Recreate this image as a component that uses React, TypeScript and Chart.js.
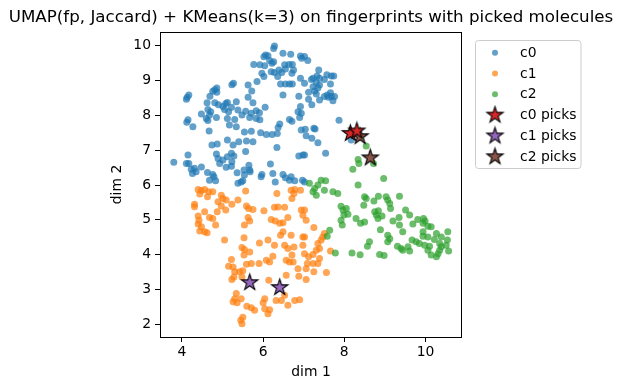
import React, { useEffect, useRef } from "react";
import { Chart, registerables } from "chart.js";
Chart.register(...registerables);

const titleText = "UMAP(fp, Jaccard) + KMeans(k=3) on fingerprints with picked molecules";
const xLabel = "dim 1";
const yLabel = "dim 2";
const xTickValues = [4, 6, 8, 10];
const yTickValues = [2, 3, 4, 5, 6, 7, 8, 9, 10];
const xRange = [3.46, 10.9];
const yRange = [1.64, 10.39];

const c0Points = [
  [6.28,9.99],[6.26,9.92],[6.06,9.73],[6.02,9.68],[6.12,9.71],[6.49,9.78],[6.68,9.75],[6.92,9.70],[6.95,9.64],[5.77,9.46],[5.92,9.45],[6.04,9.42],[6.16,9.57],[6.22,9.49],[6.26,9.54],[6.64,9.46],[6.72,9.46],[6.53,9.45],[6.20,9.25],[6.28,9.23],[6.39,9.30],[6.46,9.23],[6.55,9.33],[6.71,9.21],[6.75,9.30],[5.97,9.21],[6.02,9.11],[6.36,9.11],[6.92,9.06],[5.27,8.92],[5.23,8.88],[5.63,8.87],[5.85,8.97],[6.43,8.90],[6.55,8.90],[6.65,8.90],[6.72,8.90],[4.81,8.73],[4.86,8.78],[4.76,8.69],[4.86,8.66],[5.72,8.70],[6.49,8.58],[4.17,8.58],[4.13,8.52],[4.11,8.46],[4.69,8.55],[5.63,8.52],[6.88,8.55],[4.62,8.36],[4.81,8.36],[4.90,8.30],[5.08,8.34],[5.12,8.37],[5.34,8.39],[5.01,8.25],[5.22,8.23],[5.75,8.36],[6.05,8.23],[6.92,8.25],[4.48,8.04],[4.64,8.17],[4.71,8.10],[4.68,8.01],[5.05,8.17],[5.15,8.10],[5.38,8.15],[5.57,8.12],[5.71,8.06],[5.83,8.13],[5.91,8.07],[6.86,8.10],[6.94,8.06],[4.15,7.87],[4.12,7.80],[4.27,7.67],[4.60,7.91],[4.64,7.85],[4.85,7.94],[5.12,7.91],[5.30,7.88],[5.48,8.01],[5.67,7.94],[5.83,7.91],[5.92,7.87],[6.41,7.75],[6.65,7.88],[6.71,7.83],[6.90,7.94],[5.17,7.72],[5.34,7.67],[6.37,7.65],
  [7.02,9.69],[7.10,9.57],[7.37,9.30],[7.33,9.13],[7.23,9.06],[7.19,9.03],[7.39,9.06],[7.51,9.03],[7.57,9.16],[7.68,9.13],[7.74,9.13],[7.02,8.92],[7.39,8.87],[7.31,8.94],[7.66,8.90],[7.23,8.82],[7.35,8.78],[7.12,8.66],[7.27,8.70],[7.31,8.61],[7.51,8.54],[7.58,8.58],[7.66,8.65],[7.68,8.54],[7.76,8.54],[7.61,8.52],[7.12,8.46],[7.39,8.44],[7.72,8.42],[7.20,8.30],[7.87,7.86],[7.25,7.63],[7.28,7.61],[7.04,7.60],
  [4.67,7.55],[5.54,7.52],[5.71,7.54],[5.94,7.50],[6.08,7.45],[6.22,7.45],[6.35,7.48],[6.94,7.58],[4.74,7.15],[4.87,7.18],[5.12,7.29],[5.26,7.15],[5.40,7.24],[5.59,7.26],[5.75,7.24],[6.34,7.08],[5.57,6.96],[4.15,6.86],[4.11,6.62],[4.17,6.62],[3.80,6.65],[4.85,6.89],[4.89,6.76],[5.01,6.72],[5.12,6.81],[5.22,6.91],[5.28,6.83],[5.23,6.67],[4.93,6.62],[5.09,6.51],[5.22,6.54],[5.65,6.57],[6.18,6.60],[6.88,6.83],[6.98,6.86],[4.23,6.45],[4.31,6.48],[4.48,6.52],[4.26,6.33],[4.35,6.38],[4.63,6.36],[4.76,6.30],[4.79,6.24],[4.68,6.14],[4.83,6.12],[5.36,6.35],[5.53,6.43],[5.67,6.43],[5.54,6.29],[5.68,6.38],[5.97,6.30],[5.95,6.24],[6.24,6.33],[6.49,6.30],[6.69,6.24],[6.55,6.21],[6.65,6.14],[6.78,6.12],[5.38,6.05],[5.46,6.09],[5.50,6.12],[6.30,6.09],[6.97,6.14],
  [7.06,7.41],[7.20,7.34],[7.35,7.21],[7.02,6.86],[7.54,6.91],[8.17,7.29],[7.02,6.09]
];

const c1Points = [
  [4.40,5.87],[4.48,5.84],[4.56,5.87],[4.66,5.81],[4.44,5.74],[4.63,5.66],[4.76,5.81],[4.31,5.45],[4.31,5.38],[4.97,5.71],[5.01,5.61],[5.09,5.57],[4.89,5.52],[4.97,5.40],[4.87,5.23],[5.08,5.28],[5.23,5.45],[5.38,5.57],[5.57,5.83],[4.56,5.23],[4.40,5.11],[4.42,4.99],[4.40,4.88],[4.48,4.80],[4.68,5.07],[4.76,5.04],[4.83,4.85],[5.59,5.40],[5.64,5.33],[5.75,5.30],[6.02,5.26],[5.63,5.07],[5.67,4.97],[5.54,4.85],[6.34,5.76],[6.28,5.36],[6.37,5.37],[6.53,5.36],[6.20,5.01],[6.30,4.97],[6.41,4.90],[6.49,4.92],[6.69,5.85],[6.78,5.87],[6.92,5.85],[6.71,5.61],[6.76,5.76],[6.94,5.28],[6.98,5.13],[6.61,5.07],
  [7.02,5.28],[7.06,4.99],[7.25,4.78],
  [4.44,4.68],[4.56,4.66],[4.62,4.63],[5.05,4.42],[5.53,4.49],[5.48,4.21],[5.54,4.15],[5.67,4.08],[5.53,3.99],[5.91,4.34],[6.12,4.42],[6.28,4.27],[6.43,4.56],[6.49,4.66],[6.69,4.56],[6.53,4.27],[6.61,4.18],[6.76,4.22],[6.98,4.27],[6.98,4.51],[5.22,3.86],[5.15,3.67],[5.26,3.65],[5.30,3.51],[5.42,3.51],[5.50,3.54],[5.28,3.36],[5.48,3.36],[5.23,3.29],[5.59,3.73],[5.71,3.75],[5.90,3.75],[6.08,3.84],[6.16,3.79],[6.24,3.96],[6.57,3.84],[6.65,3.79],[6.74,3.79],[6.71,3.99],[6.86,3.60],[6.88,3.38],[6.57,3.41],[6.14,3.27],[5.34,2.89],[5.30,2.74],[5.26,2.65],[5.36,2.62],[5.46,2.74],[5.60,2.52],[5.71,2.48],[5.79,2.41],[6.04,2.74],[6.00,2.62],[6.04,2.45],[6.16,2.42],[6.12,2.31],[6.32,2.69],[6.45,2.69],[6.53,2.84],[6.61,2.55],[6.78,2.69],[6.90,2.71],[5.50,2.21],[5.45,2.12],[5.48,2.02],
  [7.02,4.51],[7.35,4.32],[7.43,4.42],[7.47,4.51],[7.51,4.61],[7.39,4.18],[7.31,4.13],[7.23,4.01],[7.12,3.94],[7.02,4.03],[7.39,3.89],[7.35,3.75],[7.23,3.75],[7.09,3.75],[7.06,3.60],[7.25,3.51],[7.56,3.49],[7.06,3.29],[7.66,4.11]
];

const c2Points = [
  [8.54,7.12],[8.34,6.73],[8.36,6.62],[8.72,6.62],[8.21,6.45],[8.97,6.19],[8.34,6.00],[7.14,6.05],[7.35,6.00],[7.43,6.14],[7.54,6.12],[7.27,5.90],[7.23,5.81],[7.31,5.71],[7.51,5.85],[7.72,5.81],[7.84,5.76],[8.50,5.66],[8.54,5.61],[8.73,5.54],[8.84,5.68],[9.03,5.66],[9.07,5.57],[9.12,5.47],[9.14,5.33],[9.36,5.68],[8.48,5.42],[7.92,5.39],[7.97,5.28],[8.05,5.33],[7.99,5.14],[8.09,5.16],[7.92,4.99],[7.95,4.85],[8.29,5.04],[8.40,4.90],[8.50,4.94],[8.75,5.23],[8.79,5.14],[8.84,5.26],[8.83,5.04],[8.93,5.11],[8.89,4.72],[9.20,4.97],[9.35,5.07],[9.36,4.85],[9.51,5.28],[9.61,5.14],[9.81,5.01],[9.95,5.04],[9.99,4.97],[9.69,4.88],[9.94,4.90],[10.06,4.82],[10.14,4.80],
  [7.58,4.53],[7.64,4.70],[7.78,4.05],[8.19,4.05],[8.39,4.00],[8.57,4.24],[8.62,4.37],[8.87,4.01],[8.98,3.98],[9.07,4.56],[9.12,4.46],[9.07,4.37],[9.31,4.24],[9.40,4.18],[9.44,4.13],[9.57,4.23],[9.61,4.11],[9.44,4.66],[9.67,4.42],[9.77,4.37],[9.85,4.32],[9.94,4.66],[9.94,4.53],[10.06,4.51],[10.22,4.44],[10.27,4.61],[10.39,4.51],[10.55,4.66],[10.54,4.42],[10.51,4.27],[10.57,4.11],[10.35,4.32],[10.39,4.23],[10.35,4.13],[10.31,4.03],[10.27,3.94],[10.14,3.99],[10.06,4.13],[9.98,4.27],[10.10,4.24]
];

const c0Picks = [[8.15, 7.48], [8.31, 7.55]];
const c1Picks = [[5.67, 3.20], [6.41, 3.06]];
const c2Picks = [[8.39, 7.39], [8.64, 6.78]];

const FONT = "'DejaVu Sans', sans-serif";

function makeStar(fill: string, R: number): HTMLCanvasElement {
  const pad = 2;
  const size = Math.ceil(2 * (R + pad));
  const cv = document.createElement("canvas");
  cv.width = size;
  cv.height = size;
  const ctx = cv.getContext("2d")!;
  const c = size / 2;
  ctx.beginPath();
  for (let k = 0; k < 10; k++) {
    const ang = -Math.PI / 2 + (k * Math.PI) / 5;
    const r = k % 2 === 0 ? R : R * 0.382;
    const x = c + r * Math.cos(ang);
    const y = c + r * Math.sin(ang);
    if (k === 0) ctx.moveTo(x, y);
    else ctx.lineTo(x, y);
  }
  ctx.closePath();
  ctx.fillStyle = fill;
  ctx.fill();
  ctx.lineWidth = 1.1;
  ctx.lineJoin = "miter";
  ctx.strokeStyle = "#000";
  ctx.stroke();
  return cv;
}

const toXY = (arr: number[][]) => arr.map(([x, y]) => ({ x, y }));

export default function App() {
  const ref = useRef<HTMLCanvasElement | null>(null);

  useEffect(() => {
    if (!ref.current) return;
    const redStar = makeStar("#d62728", 8.5);
    const purpleStar = makeStar("#9467bd", 8.5);
    const brownStar = makeStar("#8c564b", 8.5);

    const decor = {
      id: "decor",
      afterDraw(chart: any) {
        const ctx = chart.ctx as CanvasRenderingContext2D;
        const a = chart.chartArea;
        ctx.save();
        ctx.strokeStyle = "#000";
        ctx.lineWidth = 1;
        ctx.strokeRect(Math.round(a.left) + 0.5, Math.round(a.top) + 0.5, Math.round(a.right - a.left) - 1, Math.round(a.bottom - a.top));
        ctx.fillStyle = "#000";
        ctx.font = `16.7px ${FONT}`;
        ctx.textAlign = "center";
        ctx.textBaseline = "middle";
        ctx.fillText(titleText, (a.left + a.right) / 2, 18);
        ctx.font = `13.9px ${FONT}`;
        ctx.fillText(xLabel, (a.left + a.right) / 2, 372);
        ctx.save();
        ctx.translate(117, (a.top + a.bottom) / 2);
        ctx.rotate(-Math.PI / 2);
        ctx.fillText(yLabel, 0, 0);
        ctx.restore();
        const lx = 475.5, ly = 40.5, lw = 105.5, lh = 128;
        const r = 3;
        ctx.beginPath();
        ctx.moveTo(lx + r, ly);
        ctx.lineTo(lx + lw - r, ly);
        ctx.quadraticCurveTo(lx + lw, ly, lx + lw, ly + r);
        ctx.lineTo(lx + lw, ly + lh - r);
        ctx.quadraticCurveTo(lx + lw, ly + lh, lx + lw - r, ly + lh);
        ctx.lineTo(lx + r, ly + lh);
        ctx.quadraticCurveTo(lx, ly + lh, lx, ly + lh - r);
        ctx.lineTo(lx, ly + r);
        ctx.quadraticCurveTo(lx, ly, lx + r, ly);
        ctx.closePath();
        ctx.fillStyle = "rgba(255,255,255,0.8)";
        ctx.fill();
        ctx.strokeStyle = "#cccccc";
        ctx.stroke();
        const ds = chart.data.datasets;
        ctx.textAlign = "left";
        ctx.textBaseline = "middle";
        ctx.font = `13.9px ${FONT}`;
        for (let i = 0; i < ds.length; i++) {
          const y = 52.7 + i * 20.8;
          const d = ds[i];
          if (d.pointStyle && typeof d.pointStyle !== "string") {
            const img = d.pointStyle as HTMLCanvasElement;
            ctx.drawImage(img, 495 - img.width / 2, y - img.height / 2);
          } else {
            ctx.beginPath();
            ctx.arc(495, y, 3, 0, Math.PI * 2);
            ctx.fillStyle = d.backgroundColor;
            ctx.fill();
          }
          ctx.fillStyle = "#000";
          ctx.fillText(d.label, 520, y + 0.5);
        }
        ctx.restore();
      },
    };

    const scatterDs = (label: string, pts: number[][], color: string, order: number) => ({
      label,
      data: toXY(pts),
      backgroundColor: color,
      borderWidth: 0,
      pointRadius: 3.5,
      pointHoverRadius: 3.5,
      order,
    });
    const starDs = (label: string, pts: number[][], img: HTMLCanvasElement) => ({
      label,
      data: toXY(pts),
      pointStyle: img,
      backgroundColor: "#000",
      pointRadius: 8,
      order: 0,
    });

    const chart = new Chart(ref.current, {
      type: "scatter",
      data: {
        datasets: [
          scatterDs("c0", c0Points, "rgba(31,119,180,0.7)", 3),
          scatterDs("c1", c1Points, "rgba(255,127,14,0.7)", 2),
          scatterDs("c2", c2Points, "rgba(44,160,44,0.7)", 1),
          starDs("c0 picks", c0Picks, redStar),
          starDs("c1 picks", c1Picks, purpleStar),
          starDs("c2 picks", c2Picks, brownStar),
        ] as any,
      },
      options: {
        animation: false,
        responsive: true,
        maintainAspectRatio: false,
        layout: { padding: { left: 100, right: 160, top: 32, bottom: 0 } },
        plugins: {
          legend: { display: false },
          title: { display: false },
          tooltip: { enabled: false },
        },
        events: [],
        scales: {
          x: {
            type: "linear",
            min: xRange[0],
            max: xRange[1],
            afterBuildTicks: (s: any) => {
              s.ticks = xTickValues.map((v) => ({ value: v }));
            },
            afterFit: (s: any) => {
              s.height = 53;
            },
            ticks: { font: { family: FONT, size: 13.9 }, color: "#000", padding: 2, maxRotation: 0 },
            grid: { display: true, drawOnChartArea: false, drawTicks: true, tickLength: 5, color: "#000", lineWidth: 1 },
            border: { display: false },
          },
          y: {
            type: "linear",
            min: yRange[0],
            max: yRange[1],
            afterBuildTicks: (s: any) => {
              s.ticks = yTickValues.map((v) => ({ value: v }));
            },
            afterFit: (s: any) => {
              s.width = 60;
            },
            ticks: { font: { family: FONT, size: 13.9 }, color: "#000", padding: 4 },
            grid: { display: true, drawOnChartArea: false, drawTicks: true, tickLength: 5, color: "#000", lineWidth: 1 },
            border: { display: false },
          },
        },
      },
      plugins: [decor],
    } as any);
    return () => chart.destroy();
  }, []);

  return (
    <div style={{ position: "absolute", left: 0, top: 0, width: 622, height: 390, background: "#fff" }}>
      <canvas ref={ref} />
    </div>
  );
}
